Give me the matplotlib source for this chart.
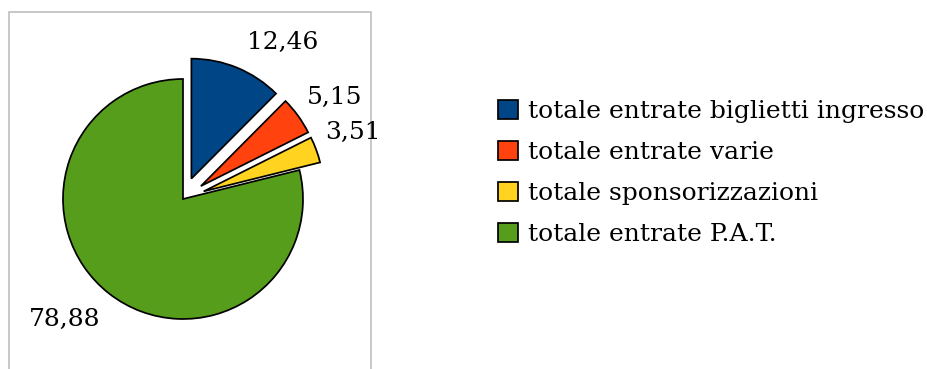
import matplotlib

matplotlib.use("Agg")
import matplotlib.pyplot as plt
from matplotlib.patches import Rectangle
import numpy as np

plt.rcParams["font.family"] = ["DejaVu Serif"]

# data
categories = [
    "totale entrate biglietti ingresso",
    "totale entrate varie",
    "totale sponsorizzazioni",
    "totale entrate P.A.T.",
]
values = [12.46, 5.15, 3.51, 78.88]
value_labels = ["12,46", "5,15", "3,51", "78,88"]
colors = ["#004586", "#FF420E", "#FFD320", "#579D1C"]
explode = [22, 22, 22, 0]

W, H = 928, 369
fig = plt.figure(figsize=(W / 100, H / 100), dpi=100)
ax = fig.add_axes([0, 0, 1, 1])

# frame around the pie area
ax.add_patch(Rectangle((9, -20), 362, H - 12 + 20, fill=False,
                       edgecolor="#BFBFBF", linewidth=1.2))

center = (183, H - 199)
wedges, texts = ax.pie(
    values,
    explode=explode,
    labels=value_labels,
    colors=colors,
    startangle=90,
    counterclock=False,
    radius=120,
    center=center,
    labeldistance=1.36,
    wedgeprops=dict(edgecolor="black", linewidth=1.25),
    textprops=dict(fontsize=18, ha="center", va="center"),
    frame=True,
)
ax.set_xlim(0, W)
ax.set_ylim(0, H)
ax.set_aspect("auto")
ax.axis("off")

# place data labels like the original (angle in degrees, distance in px from wedge tip)
label_angle = [56, 33.6, 21.5, 225.7]
label_dist = [164, 161, 160, 169]
for w, t, a, d in zip(wedges, texts, label_angle, label_dist):
    cx, cy = w.center
    t.set_position((cx + d * np.cos(np.deg2rad(a)), cy + d * np.sin(np.deg2rad(a))))

leg = ax.legend(
    wedges,
    categories,
    loc="center left",
    bbox_to_anchor=(498 / W, 1 - 173 / H),
    frameon=False,
    fontsize=18,
    handlelength=0.78,
    handleheight=0.78,
    handletextpad=0.4,
    labelspacing=0.72,
    borderpad=0,
    borderaxespad=0,
)

fig.savefig("out.png", dpi=100, facecolor="white")
